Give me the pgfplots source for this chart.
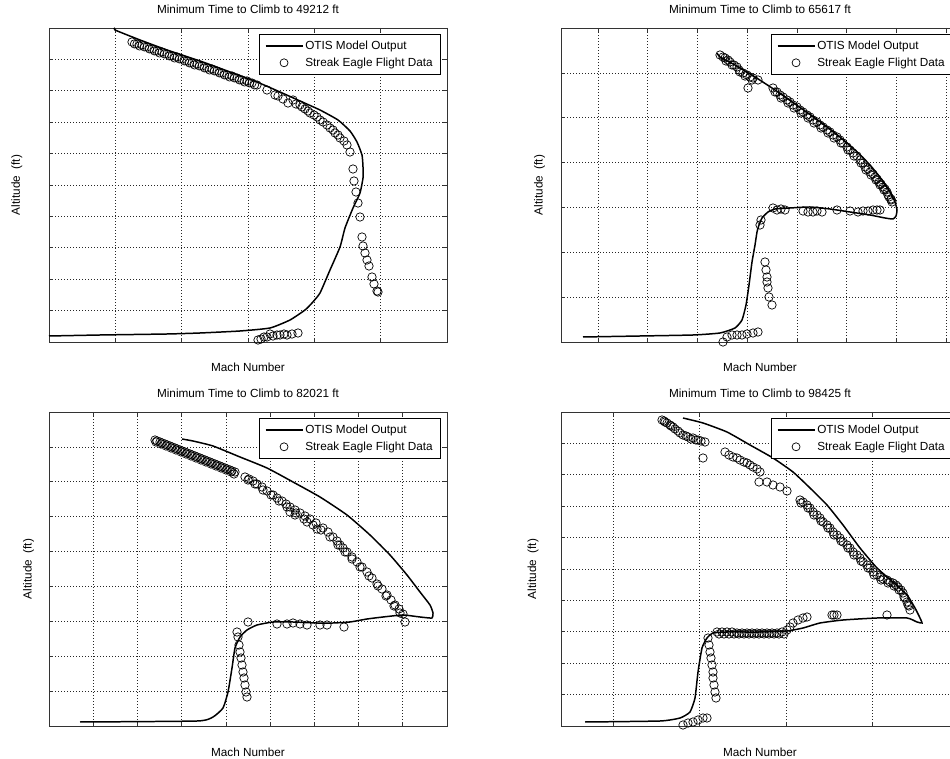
\documentclass[border=0pt]{standalone}
\usepackage{fontspec}
\setmainfont{Liberation Sans}
\usepackage{pgfplots}
\pgfplotsset{compat=1.18}
\newcommand\lbl{\fontsize{11.8}{14}\selectfont}
\pgfplotsset{
  panel/.style={
    scale only axis, width=398bp, height=314bp,
    xmin=0, xmax=398, ymin=0, ymax=314,
    anchor=south west, clip=false,
    grid=major,
    grid style={black!85, line width=0.6pt, dash pattern=on 0.8bp off 2.2bp},
    axis line style={black!80, line width=0.7pt},
    tick style={black!80, line width=0.6pt},
    major tick length=4bp,
    tick align=inside,
    xticklabels={}, yticklabels={},
    title style={font=\lbl, at={(axis description cs:0.5,1)}, anchor=base, yshift=9bp},
    xlabel={Mach Number},
    xlabel style={font=\lbl, at={(axis description cs:0.5,0)}, anchor=base, yshift=-30bp},
    ylabel={Altitude\ \ (ft)},
    ylabel style={font=\lbl, anchor=base},
    legend style={at={(axis description cs:1,1)}, anchor=north east, xshift=-6bp, yshift=-6bp,
      draw=black, line width=0.6pt, font=\lbl, inner xsep=6bp, inner ysep=4.5bp,
      row sep=3bp, cells={anchor=west}, fill=white},
  },
  otis/.style={black, line width=1.5pt, no markers, smooth, tension=0.3,
    legend image code/.code={\draw[black, line width=1.5pt] (0bp,0bp) -- (37bp,0bp);}},
  streak/.style={black, only marks, mark=o, mark size=4.2bp, mark options={line width=0.7pt},
    legend image code/.code={\draw[black, line width=0.7pt] (18.5bp,0bp) circle[radius=4bp];}},
}
\begin{document}
\begin{tikzpicture}
\useasboundingbox (0,0) rectangle (950bp,759bp);
% ---------- Panel 1 ----------
\begin{axis}[panel, at={(49bp,417bp)},
  title={Minimum Time to Climb to 49212 ft},
  xtick={0,66.33,132.67,199,265.33,331.67,398},
  ytick={0,31.4,62.8,94.2,125.6,157,188.4,219.8,251.2,282.6,314},
  ylabel style={at={(axis description cs:-0.0729,0.5)}}]
\addplot[otis] coordinates {(66,314)(66,312)(91,302)(118,292)(151,281)(181,270)(208,260)(231,250)(251,241)(271,232)(289,222)(301,211)(308,200)(313,187)(314,175)(314,164)(311,149)(304,134)(296,114)(291,95)(281,72)(271,49)(263,39)(256,32)(241,22)(221,14)(191,11)(151,9)(118,8)(51,7)(0,6)};
\addlegendentry{OTIS Model Output}
\addplot[streak] coordinates {(83,300)(88,298)(93,297)(98,295)(103,293)(108,291)(113,290)(118,288)(123,286)(128,285)(133,283)(138,281)(143,279)(148,278)(153,276)(158,274)(163,273)(168,271)(173,269)(178,267)(183,266)(188,264)(193,262)(198,261)(203,259)(208,257)
(85.5,298.1)(90.5,296.1)(95.5,295.1)(100.5,293.1)(105.5,291.1)(110.5,289.1)(115.5,288.1)(120.5,286.1)(125.5,284.1)(130.5,283.1)(135.5,281.1)(140.5,279.1)(145.5,277.1)(150.5,276.1)(155.5,274.1)(160.5,272.1)(165.5,271.1)(170.5,269.1)(175.5,267.1)(180.5,265.1)(185.5,264.1)(190.5,262.1)(195.5,260.1)(200.5,259.1)(205.5,257.1)
(218,252)(226,247)(229,246)(239,239)(244,242)(251,237)(256,233)(261,229)(268,225)(274,220)(281,214)(286,209)(291,204)(298,197)(301,190)(304,173)(305,161)(307,150)(309,139)(311,125)(313,105)(314,96)(316,89)(318,82)(320,76)(323,65)(325,58)(328,51)(329,50)
(234,243)(247,238)(253,235)(259,231)(265,227)(271,222)(278,217)(284,212)(289,207)(295,201)
(209,2)(212,3)(215,5)(218,5)(221,8)(224,6)(228,7)(231,7)(235,8)(238,7)(243,8)(249,9)};
\addlegendentry{Streak Eagle Flight Data}
\end{axis}
% ---------- Panel 2 ----------
\begin{axis}[panel, at={(561bp,417bp)},
  title={Minimum Time to Climb to 65617 ft},
  xtick={37,86.7,136.4,186.1,235.8,285.5,335.2,384.9},
  ytick={0,44.86,89.71,134.57,179.43,224.29,269.14,314},
  ylabel style={at={(axis description cs:-0.046,0.5)}}]
\addplot[otis] coordinates {(22,5)(79,6)(132,7)(159,9)(174,14)(181,22)(185,37)(188,57)(191,80)(194,97)(196,110)(198,117)(201,124)(207,130)(214,133)(229,134)(249,135)(269,133)(289,130)(309,127)(324,124)(332,123)(335,126)(336,132)(334,140)(329,150)(321,162)(309,177)(294,192)(274,209)(254,224)(234,238)(214,252)(194,265)(174,277)(159,285)(156,289)};
\addlegendentry{OTIS Model Output}
\addplot[streak] coordinates {(159,287)(162,285)(164,284)(167,282)(169,280)(173,277)(176,275)(179,270)(182,269)(186,267)(189,265)(192,264)(197,262)(187,254)(212,254)(216,250)(219,247)(222,245)(226,242)(229,240)(232,237)(236,235)(239,232)(242,230)(246,227)(249,225)(252,222)(256,220)(259,217)(262,215)(266,212)(269,210)(272,207)(276,205)(279,202)(282,199)(286,195)(289,192)(292,189)(296,186)(299,182)(302,179)(304,175)(307,173)(309,170)(312,168)(314,165)(316,163)(318,160)(320,158)(322,155)(324,153)(326,150)(328,145)(330,143)(331,140)
(165,281)(171,277)(178,272)(184,266)(191,262)(214,250)(220,244)(227,239)(233,234)(240,229)(247,224)(253,219)(260,214)(267,209)(273,204)(280,199)(287,192)(293,186)(300,179)(305,172)(310,167)(315,162)(319,157)(323,152)(327,147)(330,142)
(212,134)(216,132)(220,133)(224,132)(242,131)(247,130)(252,130)(256,131)(261,130)(276,132)(289,131)(297,130)(302,131)(307,131)(312,132)(316,132)(319,132)
(200,122)(199,117)(204,80)(205,72)(206,65)(206,60)(207,54)(208,45)(211,37)
(162,0)(166,5)(171,7)(176,7)(181,7)(186,8)(192,9)(197,10)};
\addlegendentry{Streak Eagle Flight Data}
\end{axis}
% ---------- Panel 3 ----------
\begin{axis}[panel, at={(49bp,33bp)},
  title={Minimum Time to Climb to 82021 ft},
  xtick={0,44.22,88.44,132.67,176.89,221.11,265.33,309.56,353.78,398},
  ytick={0,34.89,69.78,104.67,139.56,174.44,209.33,244.22,279.11,314},
  ylabel style={at={(axis description cs:-0.0436,0.5)}}]
\addplot[otis] coordinates {(31,4)(148,5)(164,9)(174,18)(179,34)(183,58)(186,78)(191,89)(198,96)(208,101)(224,104)(244,104)(268,103)(284,103)(301,104)(318,107)(334,109)(354,111)(371,109)(383,108)(384,113)(381,121)(371,134)(358,151)(341,171)(321,191)(298,211)(271,229)(244,244)(218,258)(191,269)(164,280)(144,285)(133,287)};
\addlegendentry{OTIS Model Output}
\addplot[streak] coordinates {(106,286)(108,285)(111,284)(113,283)(116,282)(118,281)(121,280)(123,279)(126,278)(128,277)(131,276)(133,275)(136,274)(138,273)(141,272)(143,271)(146,270)(148,269)(151,268)(153,267)(156,266)(158,265)(161,264)(163,263)(166,262)(168,261)(171,260)(173,259)(176,258)(178,257)(181,256)(183,255)(186,254)
(107,284)(112,282)(117,280)(122,278)(127,276)(132,274)(137,272)(142,270)(147,268)(152,266)(157,264)(162,262)(167,260)(172,258)(177,256)(182,254)(185,252)
(196,249)(200,247)(204,245)(208,242)(213,239)(218,235)(224,231)(228,228)(233,225)(237,222)(241,219)(246,216)(251,213)(256,210)(261,207)(267,203)(274,198)(279,194)(284,189)(288,185)(291,181)(294,178)(298,174)(303,169)(308,164)(313,159)(318,154)(323,148)(328,142)(333,137)(338,131)(342,126)(346,121)(350,117)(354,112)
(199,246)(206,242)(214,236)(222,231)(230,225)(238,219)(247,213)(255,207)(264,201)(272,196)(281,189)(289,181)(296,174)(303,167)(311,159)(320,150)(329,140)(337,130)(345,120)(351,113)
(241,214)(246,211)(258,204)(268,197)
(199,104)(228,102)(238,102)(244,103)(251,102)(258,101)(271,101)(278,101)(295,99)(356,104)
(188,94)(189,89)(190,81)(191,74)(192,68)(193,61)(194,54)(195,48)(196,41)(197,34)(198,29)};
\addlegendentry{Streak Eagle Flight Data}
\end{axis}
% ---------- Panel 4 ----------
\begin{axis}[panel, at={(561bp,33bp)},
  title={Minimum Time to Climb to 98425 ft},
  xtick={52,138.5,225,311.5,398},
  ytick={0,31.4,62.8,94.2,125.6,157,188.4,219.8,251.2,282.6,314},
  ylabel style={at={(axis description cs:-0.0628,0.5)}}]
\addplot[otis] coordinates {(24,4)(99,5)(119,8)(129,14)(134,28)(137,54)(141,78)(146,88)(152,93)(166,94)(199,94)(226,95)(242,98)(259,103)(282,106)(316,108)(346,108)(356,104)(361,103)(359,108)(354,118)(346,131)(332,144)(316,158)(299,178)(282,201)(266,221)(249,238)(232,254)(212,268)(189,281)(166,294)(142,303)(122,308)};
\addlegendentry{OTIS Model Output}
\addplot[streak] coordinates {(101,306)(103,305)(106,303)(109,301)(112,299)(117,295)(122,291)(127,289)(132,288)(137,286)(140,285)(144,284)(142,268)(164,274)(168,271)(172,269)(176,268)(179,266)(183,264)(186,263)(189,261)(192,259)(196,257)(199,254)(198,244)(206,244)(212,241)(219,239)(226,235)
(104,304)(110,300)(114,297)(119,293)(125,290)(130,287)(135,286)
(239,226)(242,224)(246,221)(249,218)(252,214)(256,211)(259,208)(262,204)(266,201)(269,198)(272,194)(276,191)(279,188)(282,184)(286,181)(289,178)(292,174)(296,171)(299,168)(302,164)(306,161)(309,158)(312,154)(316,151)(319,149)(322,147)(326,146)(329,144)(332,143)(335,141)(337,139)(340,136)(342,133)(344,128)(346,124)(348,120)(349,116)
(240,223)(247,218)(253,211)(260,205)(267,198)(273,191)(280,185)(287,178)(293,171)(300,165)(307,158)(313,151)(320,146)(327,143)(333,140)(338,136)(343,129)(347,121)
(326,111)(271,111)(273,111)(276,111)
(226,96)(229,99)(232,103)(237,106)(242,108)(246,109)
(156,94)(161,94)(166,94)(171,94)(176,93)(181,93)(186,93)(191,93)(196,93)(201,93)(206,93)(211,93)(216,93)(221,94)
(158,92)(163,92)(168,92)(173,92)(178,92)(183,92)(188,92)(193,92)(198,92)(203,92)(208,92)(213,92)(218,92)(223,92)
(147,88)(148,81)(149,74)(150,68)(151,61)(152,54)(152,48)(153,41)(154,34)(155,28)
(122,1)(127,3)(132,4)(137,6)(142,8)(146,8)};
\addlegendentry{Streak Eagle Flight Data}
\end{axis}
\end{tikzpicture}
\end{document}
